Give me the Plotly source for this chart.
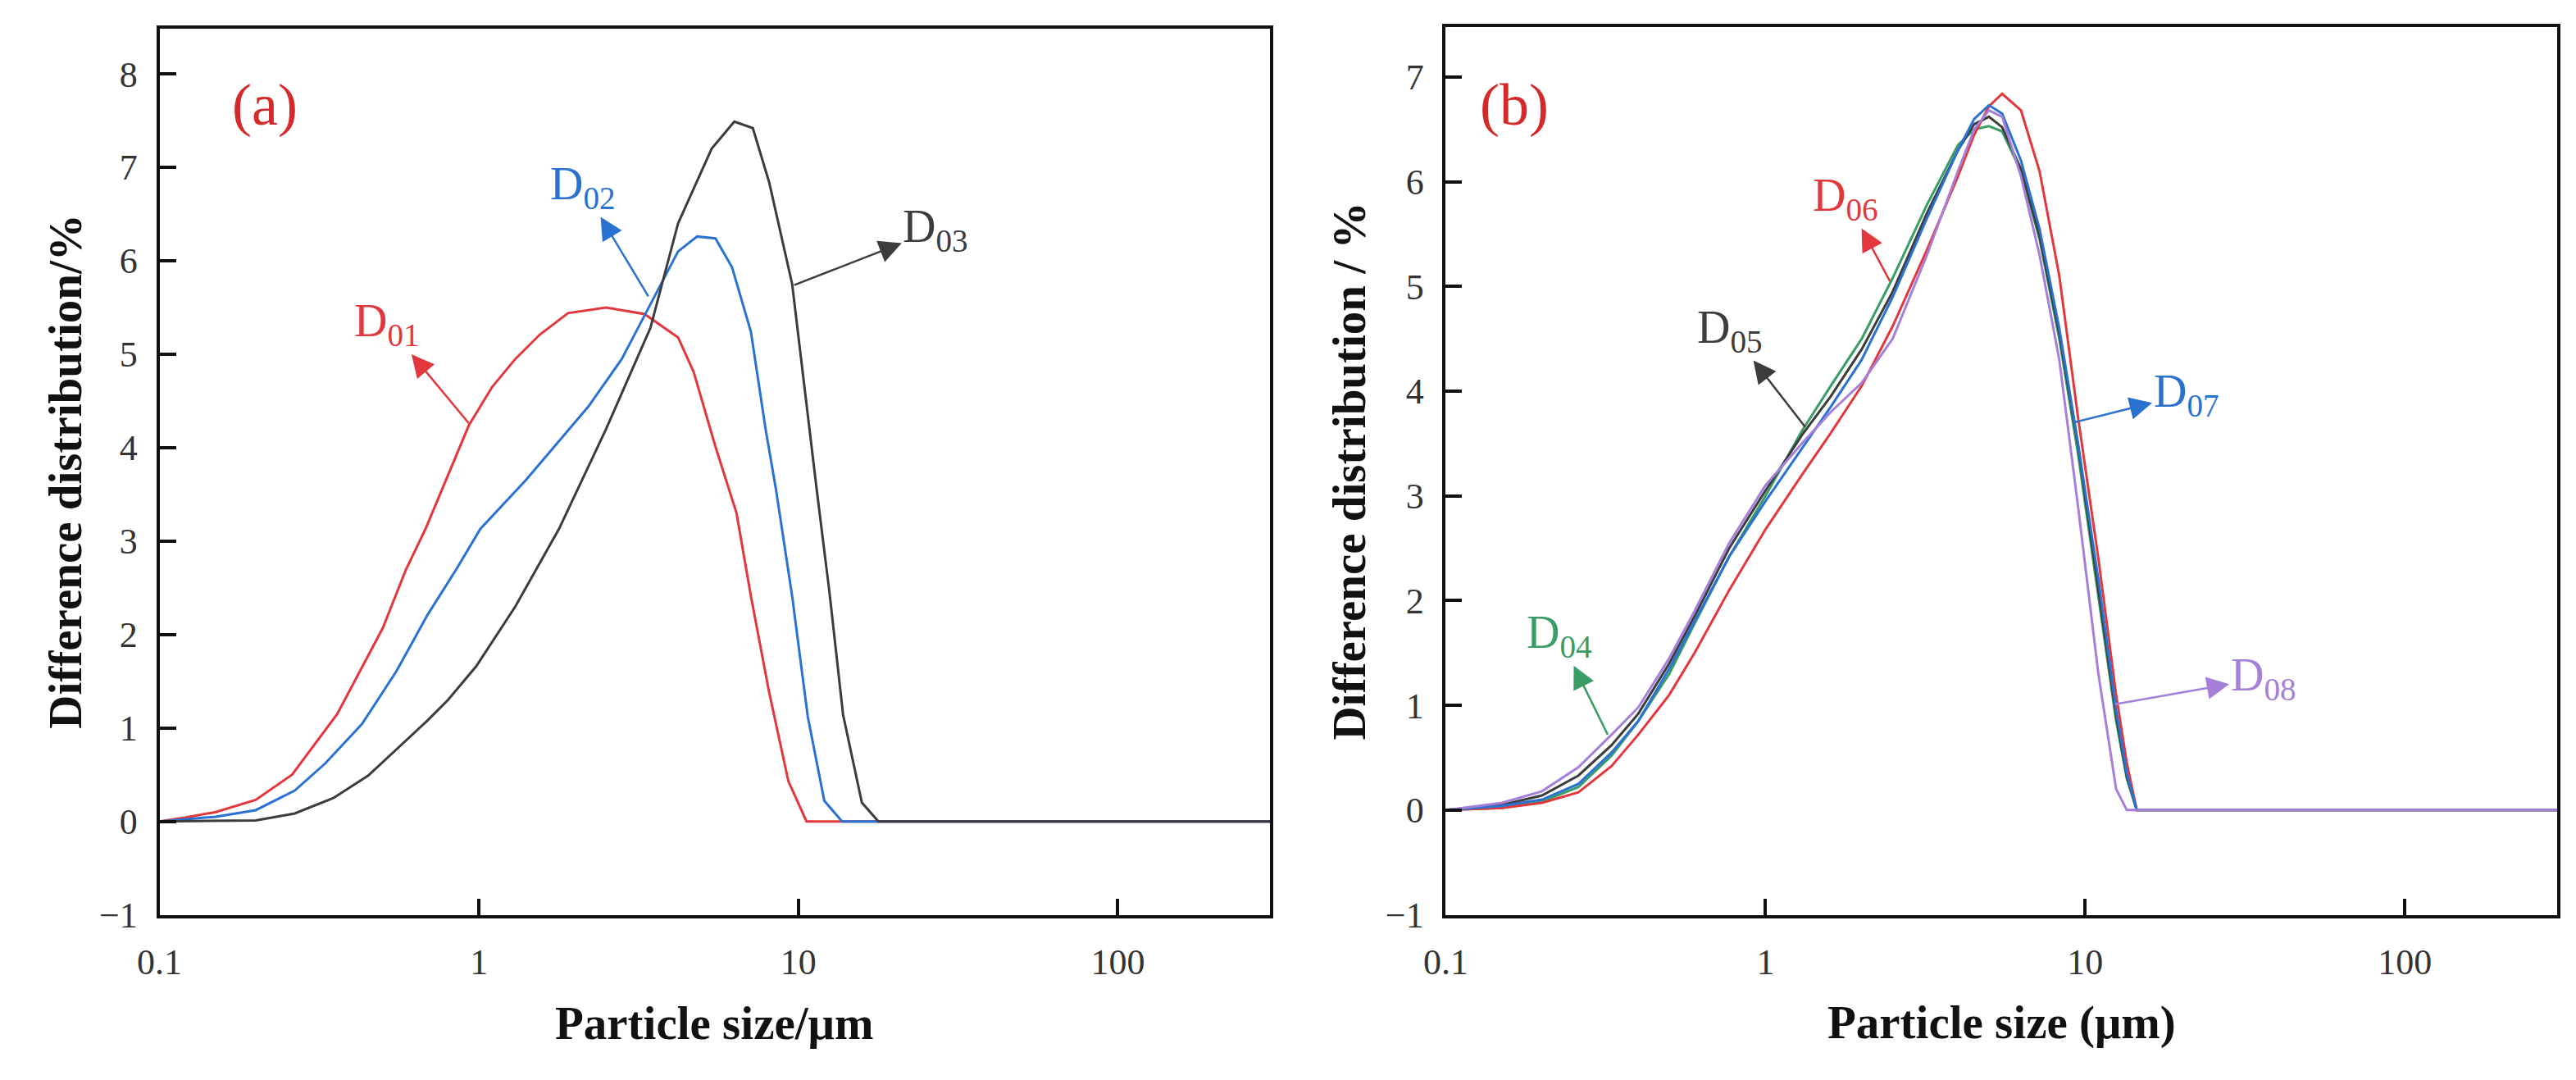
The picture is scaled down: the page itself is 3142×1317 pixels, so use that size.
import math

import plotly.graph_objects as go

# ---- panel (a) ----
d01_x = [0.1, 0.12, 0.15, 0.2, 0.26, 0.36, 0.5, 0.59, 0.68, 0.8, 0.93, 1.1, 1.3, 1.55, 1.9, 2.5, 3.3,
         4.2, 4.7, 5.5, 6.4, 7.1, 8.1, 9.3, 10.6, 20, 50, 100, 300]
d01_y = [0, 0.04, 0.10, 0.23, 0.50, 1.15, 2.07, 2.69, 3.13, 3.70, 4.24, 4.65, 4.95, 5.21, 5.44, 5.50, 5.43,
         5.18, 4.81, 4.01, 3.30, 2.41, 1.38, 0.43, 0, 0, 0, 0, 0]

d02_x = [0.1, 0.15, 0.2, 0.265, 0.33, 0.43, 0.55, 0.69, 0.85, 1.01, 1.4, 2.2, 2.8, 3.44, 4.2, 4.82, 5.5,
         6.2, 7.1, 7.9, 8.5, 9.56, 10.7, 12.05, 13.7, 20, 50, 100, 300]
d02_y = [0, 0.05, 0.12, 0.33, 0.62, 1.04, 1.60, 2.21, 2.70, 3.13, 3.65, 4.44, 4.95, 5.54, 6.10, 6.26, 6.24,
         5.93, 5.24, 4.19, 3.56, 2.41, 1.12, 0.22, 0, 0, 0, 0, 0]

d03_x = [0.1, 0.2, 0.265, 0.35, 0.45, 0.69, 0.8, 0.98, 1.3, 1.78, 2.5, 3.44, 4.2, 5.35, 6.3, 7.2, 8.1,
         9.56, 11.4, 12.5, 13.8, 15.8, 17.8, 50, 100, 300]
d03_y = [0, 0.01, 0.085, 0.25, 0.49, 1.08, 1.30, 1.66, 2.30, 3.13, 4.20, 5.28, 6.40, 7.20, 7.49, 7.42, 6.84,
         5.75, 3.56, 2.46, 1.14, 0.20, 0, 0, 0, 0]

# ---- panel (b) ----
b_x = [0.1, 0.15, 0.2, 0.26, 0.33, 0.4, 0.5, 0.6, 0.77, 1.0, 1.3, 1.6, 2.0, 2.5, 3.2, 4.0, 4.5, 5.0,
       5.5, 6.3, 7.2, 8.3, 9.5, 11.0, 12.5, 13.5, 14.5, 20, 50, 100, 300]
d04_y = [0, 0.02, 0.08, 0.22, 0.52, 0.85, 1.30, 1.78, 2.42, 3.00, 3.62, 4.05, 4.50, 5.08, 5.78, 6.35, 6.50, 6.53,
         6.48, 6.10, 5.45, 4.50, 3.40, 2.05, 0.85, 0.30, 0, 0, 0, 0, 0]
d05_y = [0, 0.05, 0.14, 0.33, 0.62, 0.92, 1.40, 1.85, 2.50, 3.05, 3.58, 3.95, 4.40, 4.95, 5.70, 6.30, 6.55, 6.62,
         6.52, 6.12, 5.48, 4.55, 3.48, 2.12, 0.90, 0.32, 0, 0, 0, 0, 0]
d06_y = [0, 0.02, 0.07, 0.17, 0.42, 0.72, 1.10, 1.50, 2.10, 2.68, 3.20, 3.60, 4.05, 4.62, 5.35, 6.05, 6.45, 6.72,
         6.84, 6.68, 6.10, 5.10, 3.75, 2.40, 1.10, 0.45, 0, 0, 0, 0, 0]
d07_y = [0, 0.04, 0.10, 0.25, 0.55, 0.85, 1.35, 1.80, 2.42, 2.95, 3.45, 3.85, 4.30, 4.90, 5.65, 6.30, 6.60, 6.73,
         6.65, 6.20, 5.55, 4.60, 3.50, 2.20, 0.95, 0.35, 0, 0, 0, 0, 0]
d08_y = [0, 0.07, 0.18, 0.41, 0.72, 0.98, 1.45, 1.90, 2.55, 3.10, 3.50, 3.80, 4.08, 4.50, 5.30, 6.10, 6.50, 6.68,
         6.62, 6.05, 5.30, 4.30, 2.90, 1.30, 0.20, 0, 0, 0, 0, 0, 0]

RED = '#e2383d'
BLUE = '#2a72d2'
BLACK = '#3c3c3c'
GREEN = '#3a9d66'
PURPLE = '#a57fd8'

W, H = 3142, 1317
SERIF = 'Liberation Serif'


def px(x, y):
    # pixel position -> paper coords
    return x / W, 1 - y / H


fig = go.Figure()

for xs, ys, c in [(d01_x, d01_y, RED), (d02_x, d02_y, BLUE), (d03_x, d03_y, BLACK)]:
    fig.add_trace(go.Scatter(x=xs, y=ys, mode='lines', line=dict(color=c, width=3),
                             xaxis='x', yaxis='y', showlegend=False))

for ys, c in [(d04_y, GREEN), (d06_y, RED), (d05_y, BLACK), (d07_y, BLUE), (d08_y, PURPLE)]:
    fig.add_trace(go.Scatter(x=b_x, y=ys, mode='lines', line=dict(color=c, width=3),
                             xaxis='x2', yaxis='y2', showlegend=False))

axis_common = dict(
    showline=True, linewidth=4, linecolor='#111', mirror=True,
    showgrid=False, zeroline=False,
    ticks='inside', ticklen=20, tickwidth=4, tickcolor='#111',
    tickfont=dict(family=SERIF, size=44, color='#333'),
)
xticks = dict(type='log', range=[-1, math.log10(300)],
              tickvals=[0.1, 1, 10, 100], ticktext=['0.1', '1', '10', '100'],
              ticklabelstandoff=16)

y0, y1 = 188 / H, 1 - 28 / H
fig.update_layout(
    width=W, height=H,
    margin=dict(l=0, r=0, t=0, b=0),
    paper_bgcolor='white', plot_bgcolor='white',
    xaxis=dict(domain=[160 / W, 1527 / W], anchor='y', **xticks, **axis_common),
    yaxis=dict(domain=[y0, y1], anchor='x', range=[-1, 8.48],
               tickvals=list(range(-1, 9)), ticklabelstandoff=14, **axis_common),
    xaxis2=dict(domain=[1743 / W, 3111 / W], anchor='y2', **xticks, **axis_common),
    yaxis2=dict(domain=[y0, 1 - 25 / H], anchor='x2', range=[-1, 7.48],
                tickvals=list(range(-1, 8)), ticklabelstandoff=14, **axis_common),
)

ann = []

# axis titles
title_font = dict(family=SERIF, size=57, color='#111', weight='bold')
for text, cx in [('Particle size/μm', 843), ('Particle size (μm)', 2427)]:
    x, y = px(cx, 1263)
    ann.append(dict(text=text, x=x, y=y, xref='paper', yref='paper', showarrow=False,
                    font=title_font, xanchor='center', yanchor='middle'))
for text, cx in [('Difference distribution/%', 43), ('Difference distribution / %', 1623)]:
    x, y = px(cx, 578)
    ann.append(dict(text=text, x=x, y=y, xref='paper', yref='paper', showarrow=False,
                    font=title_font, textangle=-90, xanchor='center', yanchor='middle'))

# panel letters
for text, cx in [('(a)', 247), ('(b)', 1827)]:
    x, y = px(cx, 80)
    ann.append(dict(text=text, x=x, y=y, xref='paper', yref='paper', showarrow=False,
                    font=dict(family=SERIF, size=72, color='#d42a2a')))

# curve labels: text, colour, point on curve (arrow tail), label centre, axes
labels = [
    ('D<sub>01</sub>', RED, (0.93, 4.26), (0.514, 5.32), 'x', 'y'),
    ('D<sub>02</sub>', BLUE, (3.39, 5.62), (2.11, 6.79), 'x', 'y'),
    ('D<sub>03</sub>', BLACK, (9.7, 5.74), (26.9, 6.33), 'x', 'y'),
    ('D<sub>04</sub>', GREEN, (0.321, 0.72), (0.226, 1.665), 'x2', 'y2'),
    ('D<sub>05</sub>', BLACK, (1.33, 3.66), (0.775, 4.58), 'x2', 'y2'),
    ('D<sub>06</sub>', RED, (2.45, 5.05), (1.78, 5.84), 'x2', 'y2'),
    ('D<sub>07</sub>', BLUE, (9.2, 3.70), (20.7, 3.97), 'x2', 'y2'),
    ('D<sub>08</sub>', PURPLE, (12.4, 1.01), (36.1, 1.26), 'x2', 'y2'),
]
for text, c, (tx, ty), (lx, ly), xr, yr in labels:
    ann.append(dict(text=text, x=math.log10(tx), y=ty, xref=xr, yref=yr,
                    ax=math.log10(lx), ay=ly, axref=xr, ayref=yr,
                    font=dict(family=SERIF, size=56, color=c),
                    showarrow=True, arrowside='start',
                    startarrowhead=2, startarrowsize=2.2,
                    arrowwidth=2.5, arrowcolor=c))

fig.update_layout(annotations=ann)

fig.write_html('out.html')
